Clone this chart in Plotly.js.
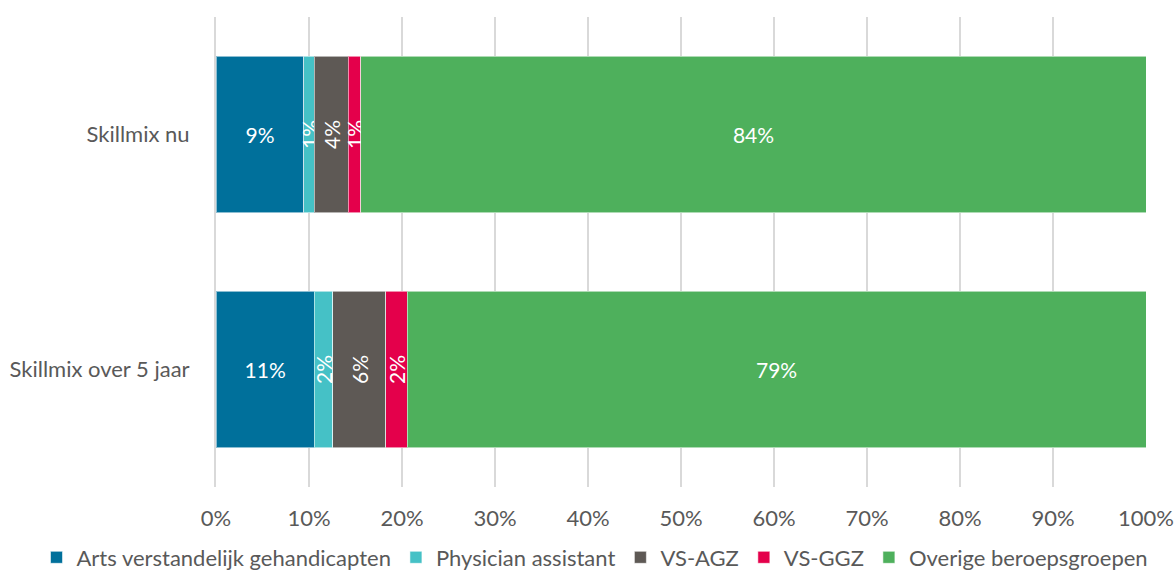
<!DOCTYPE html>
<html>
<head>
<meta charset="utf-8">
<script src="https://cdn.plot.ly/plotly-3.0.1.min.js"></script>
<style>html,body{margin:0;padding:0;background:#fff}#chart{width:1176px;height:574px}</style>
</head>
<body>
<div id="chart"></div>
<script>
const categories = ["Skillmix nu", "Skillmix over 5 jaar"];
const seriesNames = ["Arts verstandelijk gehandicapten", "Physician assistant", "VS-AGZ", "VS-GGZ", "Overige beroepsgroepen"];
const artsAVG = [9.46, 10.57];
const physicianAssistant = [1.10, 2.00];
const vsAGZ = [3.66, 5.70];
const vsGGZ = [1.37, 2.29];
const overige = [84.41, 79.44];
const xTickLabels = ["0%","10%","20%","30%","40%","50%","60%","70%","80%","90%","100%"];
const xTickVals = [0,10,20,30,40,50,60,70,80,90,100];

const colors = ["#00709B", "#45C1C6", "#5E5955", "#E4004B", "#4EB05C"];
const angles = [0, -90, -90, -90, 0];
const allSeries = [artsAVG, physicianAssistant, vsAGZ, vsGGZ, overige];

const traces = allSeries.map((vals, i) => ({
  type: "bar",
  orientation: "h",
  name: seriesNames[i],
  y: categories,
  x: vals,
  marker: {color: colors[i], line: {color: "rgba(255,255,255,0.55)", width: 1}},
  texttemplate: "%{x:.0f}%",
  textposition: "inside",
  insidetextanchor: "middle",
  textangle: angles[i],
  constraintext: "none",
  insidetextfont: {color: "#ffffff", size: 21, family: "Lato, sans-serif"},
  hoverinfo: "skip"
}));

const layout = {
  width: 1176, height: 574,
  barmode: "stack",
  bargap: 0.336,
  margin: {l: 216, r: 30, t: 17, b: 87, autoexpand: false},
  paper_bgcolor: "#ffffff",
  plot_bgcolor: "#ffffff",
  font: {family: "Lato, sans-serif", size: 22, color: "#595959"},
  showlegend: true,
  legend: {
    orientation: "h", x: -0.193, xanchor: "left", xref: "paper",
    y: -0.150, yanchor: "middle", yref: "paper",
    font: {size: 22, color: "#595959"}, traceorder: "normal",
    itemwidth: 30, tracegroupgap: 0
  },
  xaxis: {
    range: [0, 100], tickvals: xTickVals, ticktext: xTickLabels,
    showgrid: true, gridcolor: "#d9d9d9", gridwidth: 2,
    zeroline: false, showline: false, ticks: "",
    ticklabelstandoff: 16, fixedrange: true
  },
  yaxis: {
    autorange: "reversed", showgrid: false, zeroline: false,
    showline: true, linecolor: "#d9d9d9", linewidth: 2,
    ticks: "", ticklabelstandoff: 20, fixedrange: true
  }
};

Plotly.newPlot("chart", traces, layout, {displayModeBar: false, staticPlot: true});
</script>
</body>
</html>
